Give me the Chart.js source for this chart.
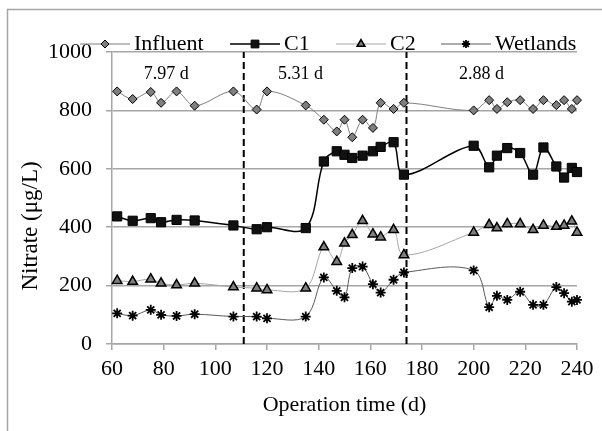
<!DOCTYPE html>
<html>
<head>
<meta charset="utf-8">
<script src="https://cdn.jsdelivr.net/npm/chart.js@4.4.0/dist/chart.umd.min.js"></script>
<style>
  html, body { margin: 0; padding: 0; background: #fff; }
  #wrap { width: 602px; height: 431px; }
</style>
</head>
<body>
<div id="wrap"><canvas id="nitrateChart" width="602" height="431"></canvas></div>
<script>
// sampling days (operation time, d)
var days = [62, 68, 75, 79, 85, 92, 107, 116, 120, 135, 142, 147, 150, 153, 157, 161, 164, 169, 173,
            200, 206, 209, 213, 218, 223, 227, 232, 235, 238, 240];

// nitrate, ug/L
var influent = [865, 839, 863, 826, 865, 816, 865, 803, 865, 817, 768, 728, 768, 708, 768, 740, 826, 805, 826,
                800, 835, 805, 828, 835, 805, 835, 818, 835, 805, 835];
var c1 = [437, 422, 431, 417, 425, 423, 406, 393, 400, 397, 625, 660, 648, 637, 645, 660, 675, 691, 580,
          679, 605, 645, 671, 654, 580, 673, 608, 570, 603, 589];
var c2 = [217, 214, 222, 208, 202, 208, 195, 191, 185, 191, 332, 282, 345, 374, 422, 376, 366, 391, 305,
          382, 408, 397, 411, 411, 391, 406, 402, 406, 420, 382];
var wetlands = [105, 97, 117, 100, 96, 102, 94, 94, 88, 94, 228, 182, 160, 260, 265, 205, 176, 220, 245,
                252, 126, 165, 151, 179, 134, 134, 195, 174, 145, 151];

// HRT phases
var phaseEnds = [111, 174];
var phaseLabels = ['7.97 d', '5.31 d', '2.88 d'];
var phaseLabelDays = [81, 133, 203];

var FONT = '"Liberation Serif", "Times New Roman", serif';
var GRID = '#a6a6a6';

function pts(vals) {
    return days.map(function (d, i) { return { x: d, y: vals[i] }; });
}

var series = [
    { label: 'Influent', data: influent, line: '#7f7f7f', lineWidth: 1, fill: '#7f7f7f', style: 'rectRot', r: 4.5, lr: 4, bw: 1 },
    { label: 'C1', data: c1, line: '#000000', lineWidth: 1.5, fill: '#111111', style: 'rect', r: 6.5, lr: 5.5, bw: 1 },
    { label: 'C2', data: c2, line: '#a6a6a6', lineWidth: 1, fill: '#7f7f7f', style: 'triangle', r: 5.5, lr: 4.5, bw: 1.5 },
    { label: 'Wetlands', data: wetlands, line: '#595959', lineWidth: 1, fill: '#000000', style: 'star', r: 5, lr: 4, bw: 1.8 }
];

var datasets = series.map(function (s) {
    return {
        label: s.label,
        data: pts(s.data),
        borderColor: s.line,
        borderWidth: s.lineWidth,
        tension: 0.35,
        pointStyle: s.style,
        pointRadius: s.r,
        pointBackgroundColor: s.fill,
        pointBorderColor: '#000',
        pointBorderWidth: s.bw,
        clip: false
    };
});

phaseEnds.forEach(function (d) {
    datasets.push({
        label: 'phase',
        data: [{ x: d, y: 0 }, { x: d, y: 1000 }],
        borderColor: '#000',
        borderWidth: 2,
        borderDash: [7, 4],
        pointRadius: 0
    });
});

// legend positions (line start x) as in the picture
var legendX = [80, 230, 336, 441];

var extras = {
    id: 'extras',
    beforeDraw: function (chart) {
        var ctx = chart.ctx;
        ctx.save();
        ctx.fillStyle = '#fff';
        ctx.fillRect(0, 0, chart.width, chart.height);
        ctx.strokeStyle = GRID;
        ctx.lineWidth = 1.5;
        ctx.strokeRect(7.5, 9.5, 700, 700);
        ctx.restore();
    },
    afterDraw: function (chart) {
        var ctx = chart.ctx, xs = chart.scales.x, ys = chart.scales.y;
        ctx.save();
        ctx.fillStyle = '#000';
        ctx.textBaseline = 'middle';

        // phase labels
        ctx.font = '18px ' + FONT;
        ctx.textAlign = 'center';
        phaseLabels.forEach(function (t, i) {
            ctx.fillText(t, xs.getPixelForValue(phaseLabelDays[i]), ys.getPixelForValue(925));
        });

        // legend
        ctx.font = '22px ' + FONT;
        ctx.textAlign = 'left';
        series.forEach(function (s, i) {
            var x0 = legendX[i], y0 = 44;
            ctx.strokeStyle = s.line;
            ctx.lineWidth = s.lineWidth;
            ctx.beginPath();
            ctx.moveTo(x0, y0);
            ctx.lineTo(x0 + 50, y0);
            ctx.stroke();
            ctx.fillStyle = s.fill;
            ctx.strokeStyle = '#000';
            ctx.lineWidth = s.bw;
            Chart.helpers.drawPoint(ctx, { pointStyle: s.style, radius: s.lr, borderWidth: s.bw, rotation: 0 }, x0 + 25, y0);
            ctx.fillStyle = '#000';
            ctx.fillText(s.label, x0 + 54, y0);
        });

        // y title
        ctx.font = '23px ' + FONT;
        ctx.translate(31, 226);
        ctx.rotate(-Math.PI / 2);
        ctx.textAlign = 'center';
        ctx.fillText('Nitrate (\u03bcg/L)', 0, 0);
        ctx.restore();
    }
};

new Chart(document.getElementById('nitrateChart'), {
    type: 'line',
    data: { datasets: datasets },
    options: {
        responsive: false,
        animation: false,
        devicePixelRatio: 1,
        layout: { padding: { top: 52, right: 25, left: 0, bottom: 0 } },
        plugins: { legend: { display: false }, tooltip: { enabled: false } },
        scales: {
            x: {
                type: 'linear',
                min: 60,
                max: 240,
                ticks: { stepSize: 20, color: '#000', padding: 6, font: { family: FONT, size: 22 },
                         callback: function (v) { return String(v); } },
                grid: { drawOnChartArea: false, drawTicks: true, tickLength: 6, color: GRID, lineWidth: 1.5 },
                border: { color: GRID, width: 1.5 },
                title: { display: true, text: 'Operation time (d)', color: '#000', font: { family: FONT, size: 22 }, padding: { top: 4, bottom: 13 } },
                afterFit: function (scale) { scale.height = 87; }
            },
            y: {
                min: 0,
                max: 1000,
                ticks: { stepSize: 200, color: '#000', padding: 14, font: { family: FONT, size: 22 },
                         callback: function (v) { return String(v); } },
                grid: { color: GRID, lineWidth: 1.5, tickLength: 6 },
                border: { color: GRID, width: 1.5 },
                afterFit: function (scale) { scale.width = 112; }
            }
        }
    },
    plugins: [extras]
});
</script>
</body>
</html>
